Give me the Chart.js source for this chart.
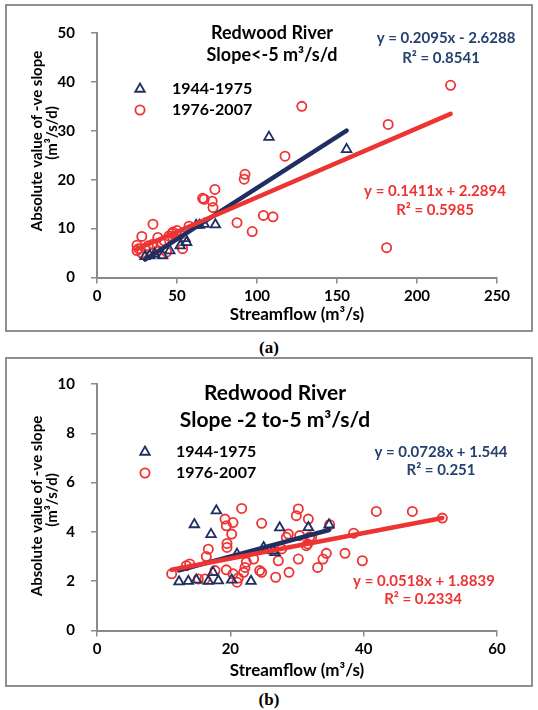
<!DOCTYPE html>
<html>
<head>
<meta charset="utf-8">
<script src="https://cdn.jsdelivr.net/npm/chart.js@4.4.0/dist/chart.umd.min.js"></script>
<style>
body { margin: 0; background: #fff; width: 538px; height: 710px; position: relative; overflow: hidden; }
.box { position: absolute; left: 5px; width: 524px; border: 2px solid #8f8f8f; }
#boxA { top: 4px; height: 324px; }
#boxB { top: 357px; height: 326px; }
.box canvas { position: absolute; left: 0; top: 0; }
.cap { position: absolute; left: 0; width: 538px; text-align: center; font: bold 17px "Liberation Serif", serif; }
</style>
</head>
<body>
<div class="box" id="boxA"><canvas id="chartA" width="524" height="324"></canvas></div>
<div class="cap" style="top:338px">(a)</div>
<div class="box" id="boxB"><canvas id="chartB" width="524" height="326"></canvas></div>
<div class="cap" style="top:690px">(b)</div>
<script>
// (a) Slope < -5 m3/s/d
var aBlueX = [30, 33, 36, 41, 45.5, 52, 55, 56, 62, 64, 67, 74, 107.5, 156];
var aBlueY = [4.3, 4.5, 4.8, 4.5, 5.5, 6.5, 8, 7.2, 10.7, 10.7, 10.9, 10.8, 28.7, 26.2];
var aRedX = [25, 25, 26, 28, 28, 30, 32, 35, 35, 38, 38, 40, 42, 43.5, 45, 47, 47.5, 50, 52, 53.5, 57.5,
	66, 67, 72, 72.5, 73.7, 87.5, 92, 92.5, 97, 104, 110, 117.5, 128, 181, 182, 221];
var aRedY = [6.6, 5.5, 5.9, 5, 8.4, 6, 6.5, 10.9, 6.8, 8.2, 5.5, 7, 7.5, 5.2, 8.5, 9, 9.3, 9.6, 8.8, 5.9, 10.5,
	16.2, 16, 15.6, 14.3, 18, 11.2, 20.1, 21.1, 9.4, 12.7, 12.4, 24.8, 35, 6.1, 31.3, 39.3];
var aBlueFit = [0.2095, -2.6288];
var aRedFit = [0.1411, 2.2894];

// (b) Slope -2 to -5 m3/s/d
var bBlueX = [12.3, 13.7, 14.6, 14.9, 16.7, 17.1, 17.4, 17.9, 18.2, 20.2, 21, 23.1, 25, 26.4, 26.7, 27.4, 31.7, 34.8];
var bBlueY = [1.98, 2.0, 4.3, 2.05, 2.0, 3.9, 2.36, 4.86, 2.02, 2.05, 3.1, 2.0, 3.37, 3.24, 3.17, 4.17, 4.18, 4.29];
var bRedX = [11.2, 13.4, 13.9, 15.2, 16.2, 16.4, 16.7, 17.7, 19.2, 19.4, 19.5, 19.5, 19.4, 20.2, 20.4, 20.4, 21, 21.2,
	21.7, 22, 22.2, 22.4, 23.5, 24.4, 24.7, 24.7, 26.8, 27.2, 27.7, 28.4, 28.7, 28.8, 29.9, 30.2, 30.2, 30.4,
	31.4, 31.6, 31.7, 31.9, 32.2, 33.1, 33.9, 34.4, 34.9, 37.2, 38.5, 39.8, 41.9, 47.3, 51.8];
var bRedY = [2.3, 2.63, 2.7, 2.09, 2.09, 3.0, 3.3, 2.43, 4.52, 4.25, 3.53, 3.37, 2.46, 3.91, 4.38, 2.3, 1.96, 2.13,
	4.95, 2.36, 2.56, 2.77, 2.9, 2.43, 2.36, 4.35, 2.16, 2.83, 3.31, 3.78, 3.91, 2.36, 4.66, 4.93, 2.9, 3.85,
	3.44, 3.51, 4.52, 3.8, 3.78, 2.56, 2.9, 3.13, 4.29, 3.13, 3.95, 2.83, 4.83, 4.83, 4.56];
var bBlueFit = [0.0728, 1.544];
var bRedFit = [0.0518, 1.8839];

var FONT = 'Lato';
var NAVY = '#1f2f62';
var RED = '#ee3333';
var AXIS = '#8a8a8a';

function pts(xs, ys) {
	return xs.map(function(x, i) { return {x: x, y: ys[i]}; });
}

// trend line from the printed equation, over the range of the series
function fitLine(fit, xs) {
	var lo = Math.min.apply(null, xs), hi = Math.max.apply(null, xs);
	return [{x: lo, y: fit[0] * lo + fit[1]}, {x: hi, y: fit[0] * hi + fit[1]}];
}

var notesPlugin = {
	id: 'notes',
	afterDraw: function(chart, args, opts) {
		var ctx = chart.ctx;
		ctx.save();
		(opts.items || []).forEach(function(it) {
			ctx.save();
			ctx.font = it.font;
			ctx.fillStyle = it.color || '#000';
			ctx.textAlign = it.align || 'center';
			ctx.textBaseline = 'middle';
			ctx.translate(it.x, it.y);
			if (it.rotate) ctx.rotate(it.rotate * Math.PI / 180);
			ctx.fillText(it.text, 0, 0);
			ctx.restore();
		});
		(opts.legend || []).forEach(function(lg) {
			var ds = chart.data.datasets[lg.dataset];
			ctx.strokeStyle = ds.borderColor;
			ctx.fillStyle = 'rgba(0,0,0,0)';
			ctx.lineWidth = ds.borderWidth;
			Chart.helpers.drawPoint(ctx, {pointStyle: ds.pointStyle, radius: ds.pointRadius, rotation: 0, borderWidth: ds.borderWidth}, lg.x, lg.y);
			ctx.font = lg.font;
			ctx.fillStyle = '#000';
			ctx.textAlign = 'left';
			ctx.textBaseline = 'middle';
			ctx.fillText(ds.label, lg.x + lg.gap, lg.y);
		});
		ctx.restore();
	}
};

function makeChart(id, cfg) {
	var tickFont = {family: FONT, size: 15, weight: 'bold'};
	return new Chart(document.getElementById(id), {
		type: 'scatter',
		data: {
			datasets: [
				{type: 'line', data: fitLine(cfg.redFit, cfg.redX), borderColor: RED, borderWidth: 4.5, pointRadius: 0, borderCapStyle: 'round'},
				{type: 'line', data: fitLine(cfg.blueFit, cfg.blueX), borderColor: NAVY, borderWidth: 4.5, pointRadius: 0, borderCapStyle: 'round'},
				{label: '1944-1975', data: pts(cfg.blueX, cfg.blueY), pointStyle: 'triangle', pointRadius: 5.5,
					borderColor: NAVY, backgroundColor: 'rgba(0,0,0,0)', borderWidth: 1.8},
				{label: '1976-2007', data: pts(cfg.redX, cfg.redY), pointStyle: 'circle', pointRadius: 4.6,
					borderColor: RED, backgroundColor: 'rgba(0,0,0,0)', borderWidth: 1.8}
			]
		},
		options: {
			responsive: false,
			animation: false,
			layout: {padding: {left: 24, right: 34, top: cfg.top, bottom: cfg.bottom}},
			scales: {
				x: {
					type: 'linear', min: 0, max: cfg.xMax,
					ticks: {stepSize: cfg.xStep, color: '#000', font: tickFont, padding: 4, maxRotation: 0},
					grid: {drawOnChartArea: false, drawTicks: true, tickLength: 6, color: AXIS, lineWidth: 1.5},
					border: {color: AXIS, width: 2},
					title: {display: true, text: 'Streamflow (m³/s)', color: '#000', font: {family: FONT, size: 17, weight: 'bold'}, padding: 0},
					afterFit: function(s) { s.height = cfg.xHeight; }
				},
				y: {
					type: 'linear', min: 0, max: cfg.yMax,
					ticks: {stepSize: cfg.yStep, color: '#000', font: tickFont, padding: 16},
					grid: {drawOnChartArea: false, drawTicks: true, tickLength: 6, color: AXIS, lineWidth: 1.5},
					border: {color: AXIS, width: 2},
					afterFit: function(s) { s.width = 66; }
				}
			},
			plugins: {
				legend: {display: false},
				tooltip: {enabled: false},
				notes: {items: cfg.notes, legend: cfg.legend}
			}
		},
		plugins: [notesPlugin]
	});
}

var yTitle1 = 'Absolute value of -ve slope';
var yTitle2 = '(m³/s/d)';
var axisTitleFont = 'bold 15px ' + FONT;
var eqFont = 'bold 15px ' + FONT;
var legFont = 'bold 16px ' + FONT;

makeChart('chartA', {
	blueX: aBlueX, blueY: aBlueY, redX: aRedX, redY: aRedY, blueFit: aBlueFit, redFit: aRedFit,
	xMax: 250, xStep: 50, yMax: 50, yStep: 10, top: 27, bottom: 5.1, xHeight: 47.4,
	notes: [
		{text: 'Redwood River', x: 265, y: 27, font: 'bold 18px ' + FONT},
		{text: 'Slope<-5 m³/s/d', x: 265, y: 49, font: 'bold 18px ' + FONT},
		{text: 'y = 0.2095x - 2.6288', x: 439, y: 32, font: eqFont, color: '#26416f'},
		{text: 'R² = 0.8541', x: 434, y: 52, font: eqFont, color: '#26416f'},
		{text: 'y = 0.1411x + 2.2894', x: 428, y: 185, font: eqFont, color: RED},
		{text: 'R² = 0.5985', x: 428, y: 204, font: eqFont, color: RED},
		{text: yTitle1, x: 30, y: 135, font: axisTitleFont, rotate: -90},
		{text: yTitle2, x: 45, y: 127, font: axisTitleFont, rotate: -90}
	],
	legend: [
		{dataset: 2, x: 133, y: 83, gap: 32, font: legFont},
		{dataset: 3, x: 133, y: 104, gap: 32, font: legFont}
	]
});

makeChart('chartB', {
	blueX: bBlueX, blueY: bBlueY, redX: bRedX, redY: bRedY, blueFit: bBlueFit, redFit: bRedFit,
	xMax: 60, xStep: 20, yMax: 10, yStep: 2, top: 24, bottom: 4.1, xHeight: 50.4,
	notes: [
		{text: 'Redwood River', x: 268, y: 34, font: 'bold 21px ' + FONT},
		{text: 'Slope -2 to-5 m³/s/d', x: 268, y: 61, font: 'bold 21px ' + FONT},
		{text: 'y = 0.0728x + 1.544', x: 434, y: 93, font: eqFont, color: '#26416f'},
		{text: 'R² = 0.251', x: 434, y: 111, font: eqFont, color: '#26416f'},
		{text: 'y = 0.0518x + 1.8839', x: 417, y: 222, font: eqFont, color: RED},
		{text: 'R² = 0.2334', x: 416, y: 240, font: eqFont, color: RED},
		{text: yTitle1, x: 30, y: 147, font: axisTitleFont, rotate: -90},
		{text: yTitle2, x: 45, y: 141, font: axisTitleFont, rotate: -90}
	],
	legend: [
		{dataset: 2, x: 138, y: 93, gap: 31, font: legFont},
		{dataset: 3, x: 138, y: 114, gap: 31, font: legFont}
	]
});
</script>
</body>
</html>
